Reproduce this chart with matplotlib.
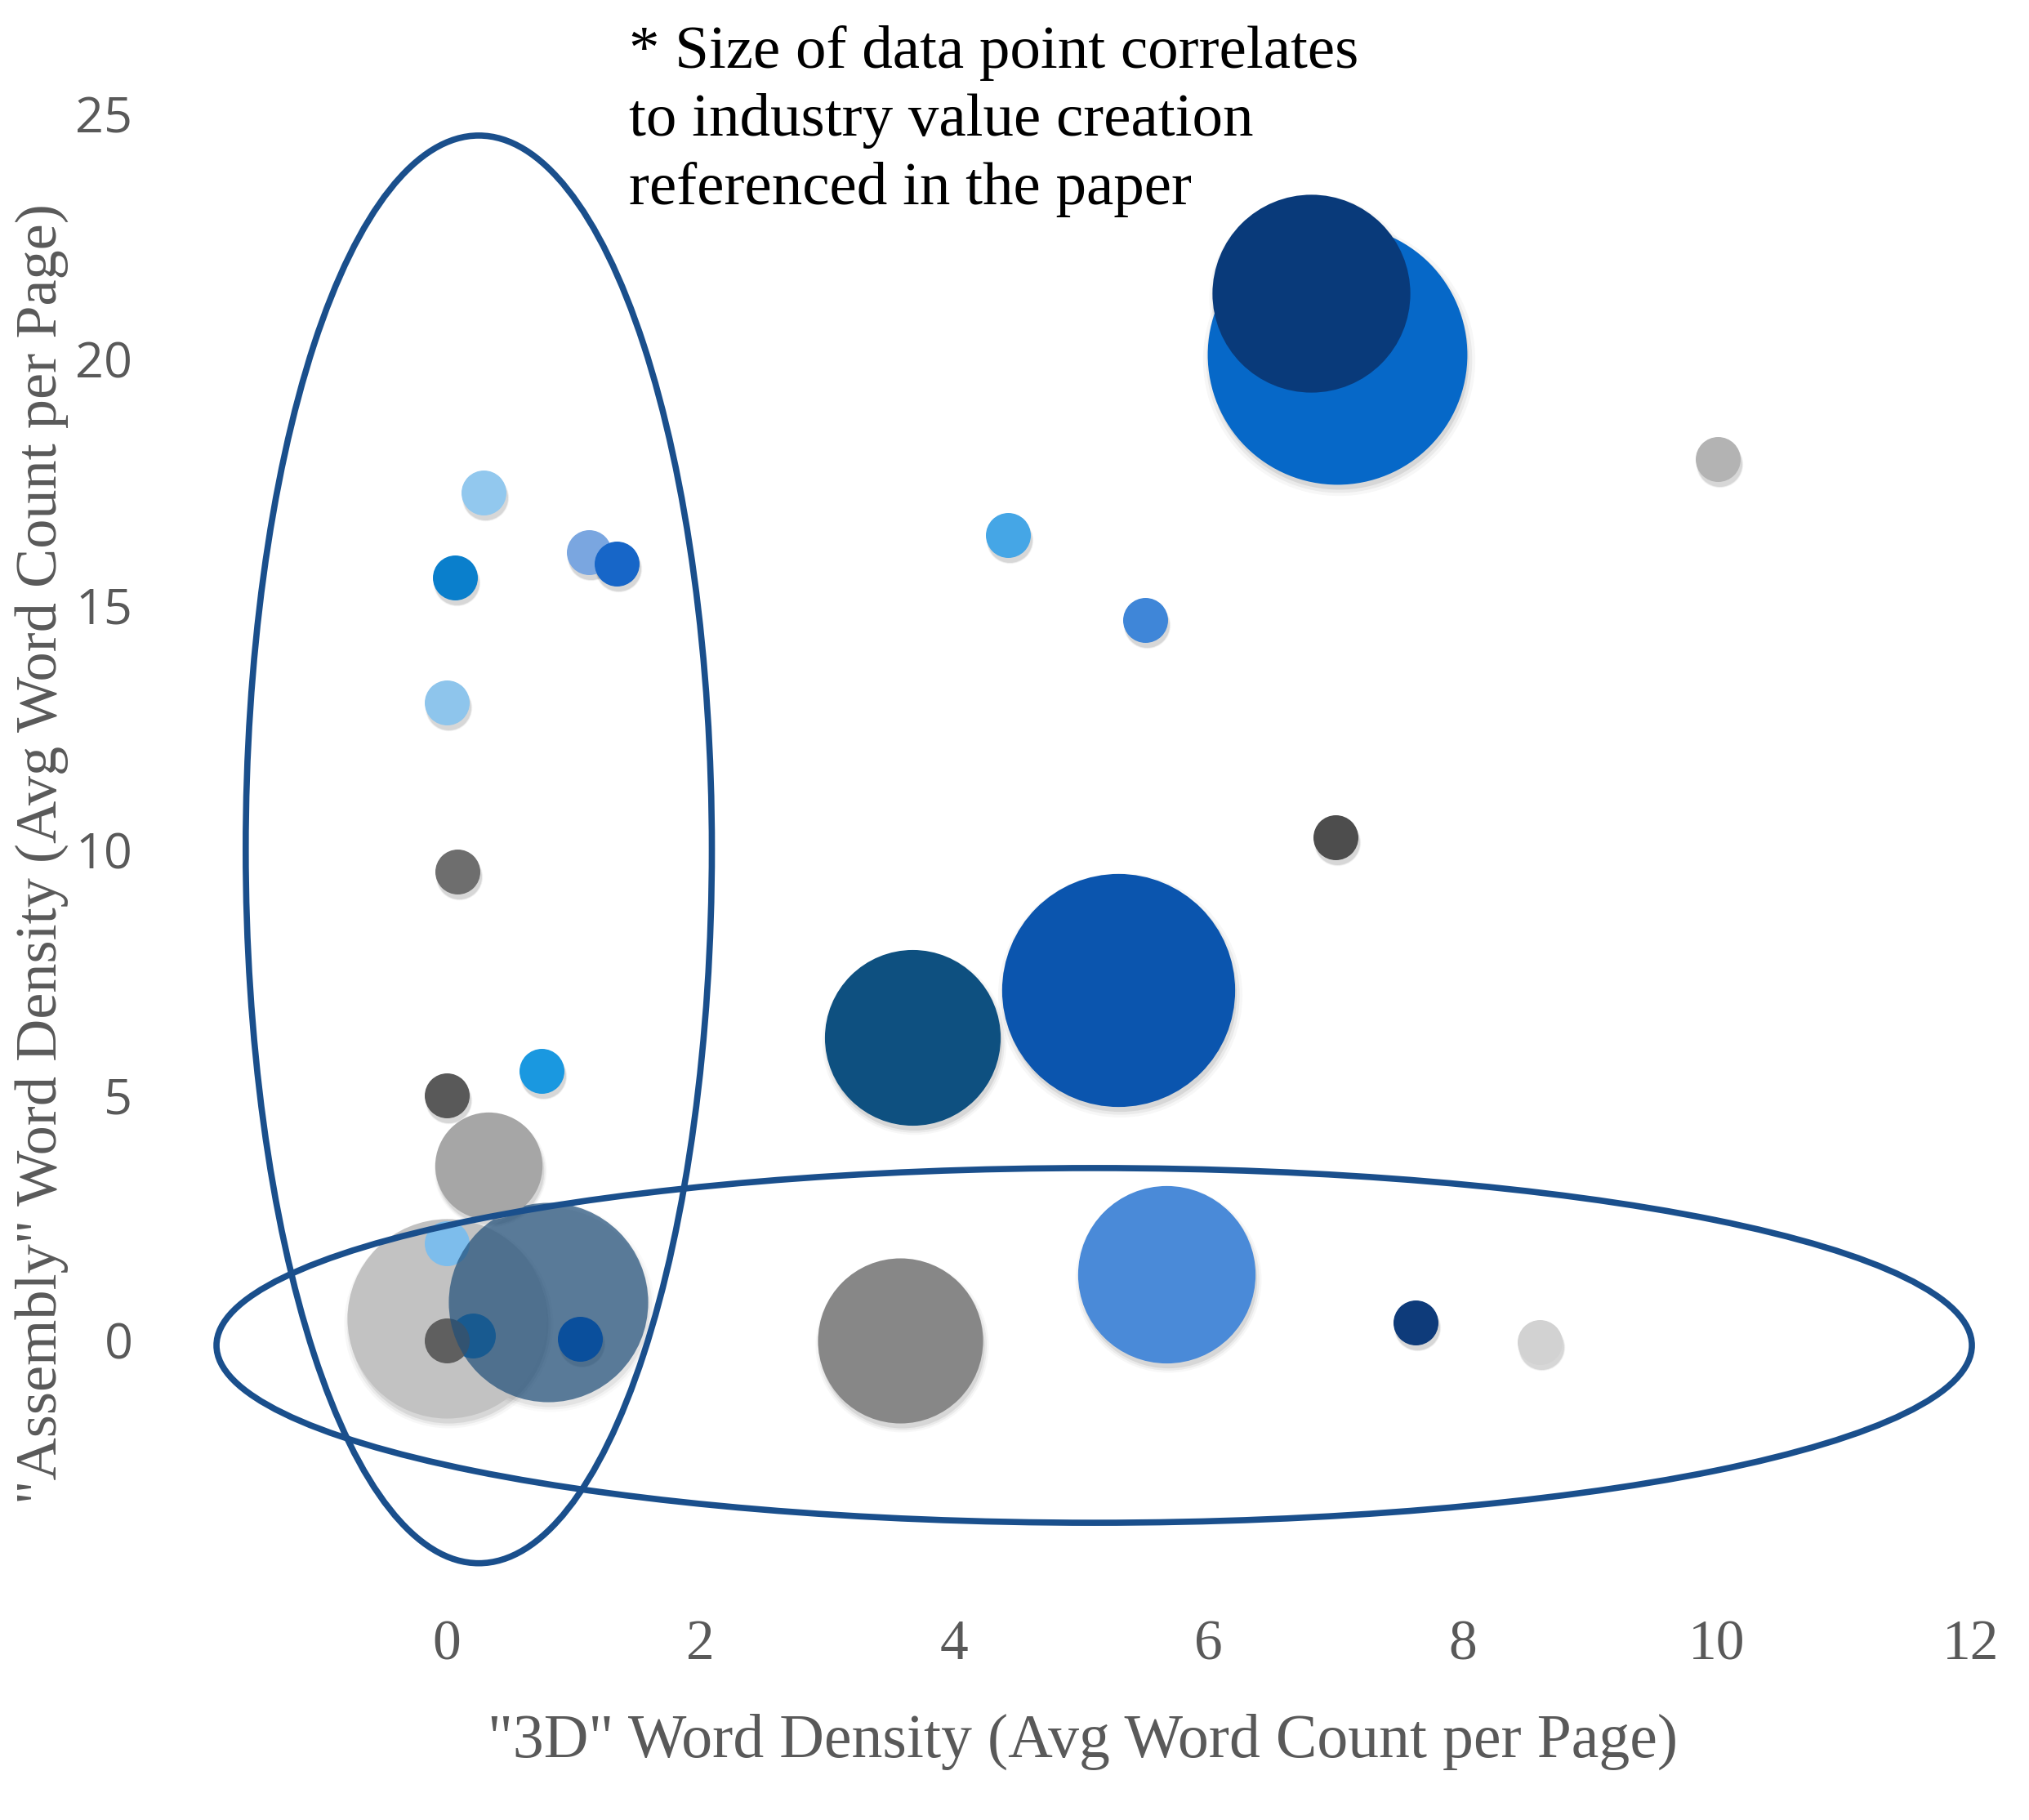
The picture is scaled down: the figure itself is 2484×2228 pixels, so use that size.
import matplotlib
matplotlib.use("Agg")
import matplotlib.pyplot as plt
from matplotlib.patches import Ellipse
from matplotlib.transforms import offset_copy

# ---- data (draw order matters for overlaps) ----
x_3d = [0.00, 0.00, 0.21, 0.00, 0.80, 1.05, 0.33, 0.00, 0.75, 0.09, 0.00, 0.07, 0.29,
        1.12, 1.34, 3.57, 3.67, 5.29, 5.67, 7.63, 8.61, 7.00, 4.42, 5.50, 10.01, 7.01, 6.81]
y_assembly = [0.45, 1.98, 0.10, 0.00, 0.78, 0.03, 3.56, 4.99, 5.49, 9.55, 13.00, 15.55, 17.28,
              16.07, 15.84, 0.00, 6.17, 7.15, 1.35, 0.37, -0.03, 10.26, 16.41, 14.69, 17.97, 20.10, 21.35]
value_creation = [19.7, 1, 1, 1, 19.7, 1, 5.7, 1, 1, 1, 1, 1, 1,
                  1, 1, 13.5, 15.3, 26.9, 15.6, 1, 1, 1, 1, 1, 1, 33.4, 19.4]
colors = ["#c2c2c2", "#7dbdec", "#0a78c8", "#5f5f5f", "#1f4e79", "#0a4f9c", "#a6a6a6",
          "#595959", "#1a98e0", "#6e6e6e", "#8ec5ec", "#0a7fcc", "#92c8ee",
          "#7aa6e0", "#1766c8", "#878787", "#0e5080", "#0b55ae", "#4a8ad8",
          "#0e3b7a", "#d2d2d2", "#4d4d4d", "#45a6e6", "#3f86d8", "#b3b3b3",
          "#0668c8", "#093a7a"]
alphas = [1, 1, 1, 1, 0.7, 1, 1, 1, 1, 1, 1, 1, 1,
          1, 1, 1, 1, 1, 1, 1, 1, 1, 1, 1, 1, 1, 1]

x_ticks = [0, 2, 4, 6, 8, 10, 12]
y_ticks = [0, 5, 10, 15, 20, 25]

W, H = 2484, 2228
fig = plt.figure(figsize=(W / 100, H / 100), dpi=100)
xlim = (-2.3, 12.3)
ylim = (-5.6, 27.2)
# pixel mapping: x0 at 546.5 px, 155.5 px/unit ; y0 at 1641 px from top, 60.06 px/unit
left = (546.5 + xlim[0] * 155.5) / W
right = (546.5 + xlim[1] * 155.5) / W
bottom = 1 - (1641 - ylim[0] * 60.06) / H
top = 1 - (1641 - ylim[1] * 60.06) / H
ax = fig.add_axes([left, bottom, right - left, top - bottom])
ax.set_xlim(*xlim)
ax.set_ylim(*ylim)
for sp in ax.spines.values():
    sp.set_visible(False)

SCALE = 1568.0  # pt^2 per unit of value
for xi, yi, v, c, a in zip(x_3d, y_assembly, value_creation, colors, alphas):
    s = v * SCALE
    # soft drop shadow
    for grow, al in [(1.10, 0.03), (1.05, 0.05), (1.0, 0.08)]:
        tr = offset_copy(ax.transData, fig=fig, x=2, y=-6, units='dots')
        ax.scatter([xi], [yi], s=s * grow, color="black", alpha=al * a,
                   linewidths=0, transform=tr, zorder=2)
    ax.scatter([xi], [yi], s=s, color=c, alpha=a, linewidths=0, zorder=3)

# group ellipses
ell_color = "#1a4f8c"
ax.add_patch(Ellipse((0.255, 10.01), 3.67, 29.1, fill=False, edgecolor=ell_color,
                     linewidth=5.5, zorder=5))
ax.add_patch(Ellipse((5.10, -0.10), 13.82, 7.23, fill=False, edgecolor=ell_color,
                     linewidth=5.5, zorder=5))

ax.set_xticks(x_ticks)
ax.set_xticklabels([str(t) for t in x_ticks], family="Liberation Serif", fontsize=50,
                   color="#595959")
ax.set_yticks(y_ticks)
ax.set_yticklabels([str(t) for t in y_ticks], family="Open Sans", fontsize=44,
                   color="#595959")
ax.tick_params(axis="x", length=0, pad=4)
ax.tick_params(axis="y", length=0, pad=19)

fig.text(1326 / W, 1 - 2151 / H, '"3D" Word Density (Avg Word Count per Page)',
         family="Liberation Serif", fontsize=54.5, color="#595959", ha="center", va="baseline")
fig.text(51 / W, 1 - 1045 / H, '"Assembly" Word Density (Avg Word Count per Page)',
         family="Liberation Serif", fontsize=52, color="#595959", ha="center", va="center",
         rotation=90)

ax.text(1.44, 26.81, "* Size of data point correlates\nto industry value creation\nreferenced in the paper",
        family="Liberation Serif", fontsize=54, color="black", ha="left", va="top",
        linespacing=1.3, zorder=6, clip_on=False)

fig.savefig("out.png", dpi=100, facecolor="white")
